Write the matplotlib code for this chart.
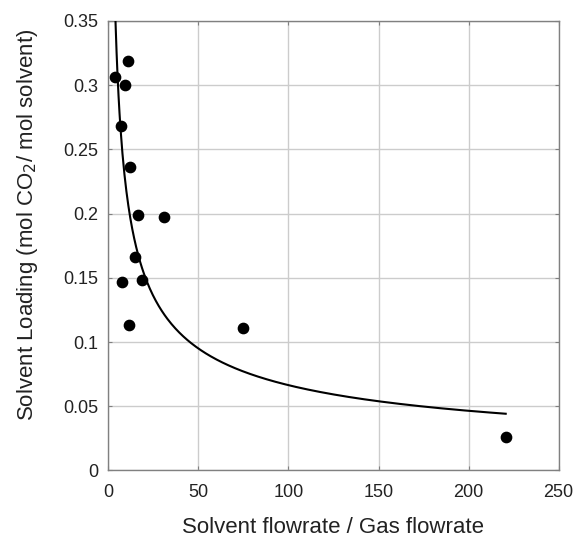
import numpy as np
import matplotlib
matplotlib.use("Agg")
import matplotlib.pyplot as plt

plt.rcParams['font.family'] = ['Liberation Sans', 'DejaVu Sans']

# measured points (solvent/gas flowrate ratio, loading)
flow_ratio = [11.1, 3.5, 9.4, 7.2, 12.0, 16.5, 30.9, 15.0, 7.8, 18.8, 11.5, 75.0, 220.6]
loading = [0.319, 0.306, 0.300, 0.268, 0.236, 0.199, 0.197, 0.166, 0.147, 0.148, 0.113, 0.111, 0.0263]

x_ticks = [0, 50, 100, 150, 200, 250]
y_ticks = [0, 0.05, 0.1, 0.15, 0.2, 0.25, 0.3, 0.35]
y_tick_labels = ['0', '0.05', '0.1', '0.15', '0.2', '0.25', '0.3', '0.35']

# power-law trendline fitted to the points (log-log least squares)
lx = np.log(flow_ratio)
ly = np.log(loading)
b, ln_a = np.polyfit(lx, ly, 1)
x_fit = np.linspace(min(flow_ratio), max(flow_ratio), 400)
y_fit = np.exp(ln_a) * x_fit ** b

fig = plt.figure(figsize=(5.74, 5.38), dpi=100)
ax = fig.add_axes([0.1887, 0.1255, 0.7846, 0.8355])

ax.plot(x_fit, y_fit, color='black', lw=1.5, zorder=3, clip_on=True)
ax.scatter(flow_ratio, loading, s=55, color='black', zorder=4, clip_on=False)

ax.set_xlim(0, 250)
ax.set_ylim(0, 0.35)
ax.set_xticks(x_ticks)
ax.set_yticks(y_ticks)
ax.set_yticklabels(y_tick_labels)
ax.grid(True, color='#cccccc', lw=1.0)
ax.set_axisbelow(True)

for s in ax.spines.values():
    s.set_color('#808080')
    s.set_linewidth(1.0)
ax.tick_params(direction='in', length=3, color='#808080', labelsize=13,
               labelcolor='#222222', top=True, right=True)
ax.tick_params(axis='x', pad=10)
ax.tick_params(axis='y', pad=7)

ax.set_xlabel('Solvent flowrate / Gas flowrate', fontsize=16, color='#222222')
ax.xaxis.set_label_coords(0.5, -0.104)
ax.set_ylabel('Solvent Loading (mol CO$_2$/ mol solvent)', fontsize=16,
              color='#222222', va='center')
ax.yaxis.set_label_coords(-0.1805, 0.546)

fig.savefig('out.png', dpi=100)
